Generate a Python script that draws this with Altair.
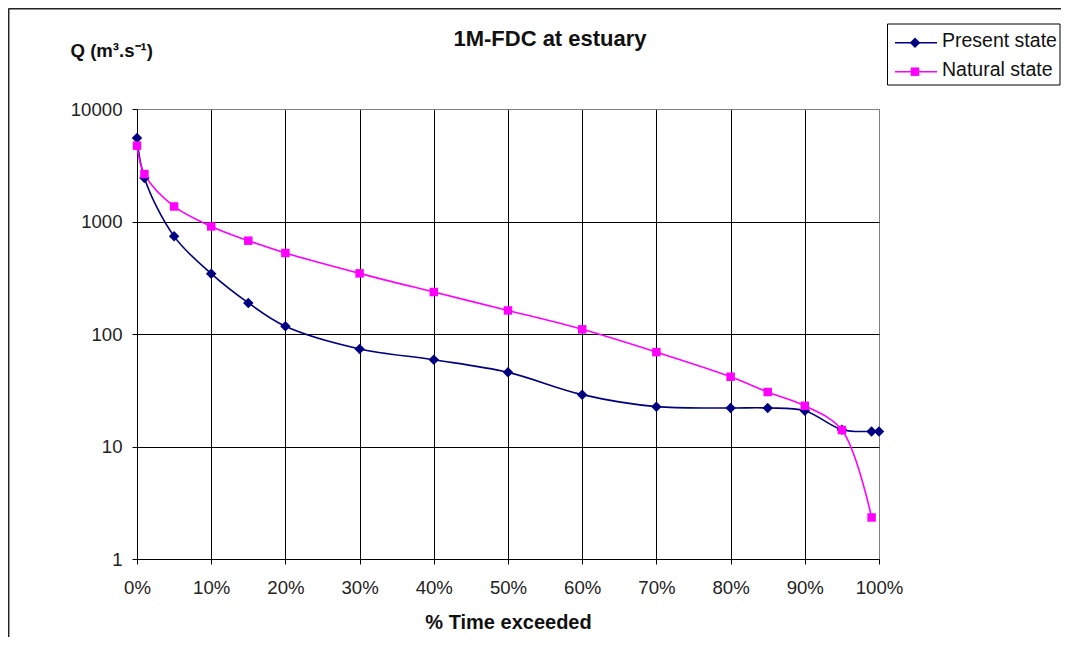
import altair as alt
import pandas as pd

# ---- data ----
series_names = ["Present state", "Natural state"]
series_colors = ["#000080", "#FF00FF"]
series_shapes = ["diamond", "square"]
series_sizes = [110, 72]

x_present = [0, 1, 5, 10, 15, 20, 30, 40, 50, 60, 70, 80, 85, 90, 95, 99, 100]
q_present = [5520, 2440, 738, 344, 189, 117, 73.6, 59, 45.6, 28.9, 22.6, 22, 22, 20.8, 14.1, 13.6, 13.6]

x_natural = [0, 1, 5, 10, 15, 20, 30, 40, 50, 60, 70, 80, 85, 90, 95, 99]
q_natural = [4720, 2640, 1360, 904, 675, 525, 346, 236, 162, 110, 69, 41.7, 30.5, 23, 14.0, 2.34]

x_ticks = list(range(0, 101, 10))
y_ticks = [1, 10, 100, 1000, 10000]

title_text = "1M-FDC at estuary"
x_title = "% Time exceeded"
y_title = "Q (m³.s⁻¹)"

FONT = "Liberation Sans, Arial, sans-serif"

df = pd.concat([
    pd.DataFrame({"x": x_present, "q": q_present, "series": series_names[0], "order": range(len(x_present))}),
    pd.DataFrame({"x": x_natural, "q": q_natural, "series": series_names[1], "order": range(len(x_natural))}),
], ignore_index=True)

color_scale = alt.Scale(domain=series_names, range=series_colors)
shape_scale = alt.Scale(domain=series_names, range=series_shapes)
size_scale = alt.Scale(domain=series_names, range=series_sizes)

x_enc = alt.X(
    "x:Q",
    scale=alt.Scale(domain=[0, 100], nice=False),
    axis=alt.Axis(
        values=x_ticks,
        labelExpr="datum.value + '%'",
        labelFlush=False,
        title=x_title,
        titleFont=FONT, titleFontSize=20, titleFontWeight="bold", titleColor="#111",
        titleY=63, titleBaseline="middle",
        labelFont=FONT, labelFontSize=18.6, labelColor="#222", labelPadding=14,
        tickSize=5, tickColor="#000", domainColor="#000",
        gridColor={"condition": {"test": "datum.value === 100", "value": "#808080"}, "value": "#000000"},
        gridWidth=1,
    ),
)
y_enc = alt.Y(
    "q:Q",
    scale=alt.Scale(type="log", domain=[1, 10000], nice=False),
    axis=alt.Axis(
        values=y_ticks,
        format="d",
        labelFlush=False,
        title=y_title,
        titleFont=FONT, titleFontSize=18.6, titleFontWeight="bold", titleColor="#111",
        titleAngle=0, titleAlign="left", titleBaseline="middle", titleX=-67, titleY=-59,
        labelFont=FONT, labelFontSize=18.6, labelColor="#222", labelPadding=10,
        tickSize=5, tickColor="#000", domainColor="#000",
        gridColor={"condition": {"test": "datum.value === 10000", "value": "#808080"}, "value": "#000000"},
        gridWidth=1,
    ),
)

base = alt.Chart(df)

lines = base.mark_line(interpolate="catmull-rom", strokeWidth=1.6).encode(
    x=x_enc, y=y_enc,
    color=alt.Color("series:N", scale=color_scale, legend=None),
    detail="series:N",
    order="order:Q",
)
points = base.mark_point(filled=True, opacity=1).encode(
    x="x:Q", y="q:Q",
    color=alt.Color("series:N", scale=color_scale, legend=None),
    shape=alt.Shape("series:N", scale=shape_scale, legend=None),
    size=alt.Size("series:N", scale=size_scale, legend=None),
)

# outer frame of the chart object (decoration): only the top and left edges are in view
one = pd.DataFrame({"k": [0]})
frame_top = alt.Chart(one).mark_rule(color="#222", strokeWidth=1.5).encode(
    x=alt.value(-128.5), x2=alt.value(1000), y=alt.value(-100.3)
)
frame_left = alt.Chart(one).mark_rule(color="#222", strokeWidth=1.5).encode(
    x=alt.value(-128.3), y=alt.value(-100.5), y2=alt.value(600)
)

# title
title = alt.Chart(pd.DataFrame({"t": [title_text]})).mark_text(
    font=FONT, fontSize=22, fontWeight="bold", color="#111", align="center", baseline="middle"
).encode(text="t:N", x=alt.value(413), y=alt.value(-70))

# custom legend
legend_layers = [
    alt.Chart(one).mark_rect(fill="white", stroke="#000", strokeWidth=1).encode(
        x=alt.value(750.5), x2=alt.value(923), y=alt.value(-85), y2=alt.value(-24)
    )
]
legend_line_y = [-66.3, -37.3]
legend_text_y = [-62.3, -33]
for i, name in enumerate(series_names):
    d = pd.DataFrame({"series": [name]})
    legend_layers.append(
        alt.Chart(d).mark_rule(color=series_colors[i], strokeWidth=1.6).encode(
            x=alt.value(758), x2=alt.value(800), y=alt.value(legend_line_y[i])
        )
    )
    legend_layers.append(
        alt.Chart(d).mark_point(filled=True, opacity=1, size=series_sizes[i], shape=series_shapes[i],
                                color=series_colors[i]).encode(
            x=alt.value(778), y=alt.value(legend_line_y[i])
        )
    )
    legend_layers.append(
        alt.Chart(d).mark_text(font=FONT, fontSize=19.5, color="#111", align="left",
                               baseline="alphabetic").encode(
            text="series:N", x=alt.value(805), y=alt.value(legend_text_y[i])
        )
    )

chart = alt.layer(frame_top, frame_left, lines, points, title, *legend_layers).properties(
    width=742,
    height=450,
    autosize=alt.AutoSizeParams(type="none"),
    padding={"left": 129, "top": 101, "right": 182, "bottom": 78},
    background="white",
).configure_view(stroke="#808080", strokeWidth=1)

chart.save("out.html", embed_options={"renderer": "svg", "actions": False})
